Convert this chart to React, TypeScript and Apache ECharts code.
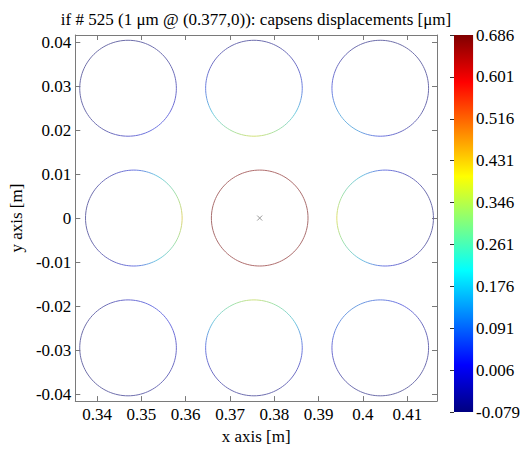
import React, { useEffect, useRef } from "react";
import * as echarts from "echarts";

const titleText = "if # 525 (1 μm @ (0.377,0)): capsens displacements [μm]";
const xName = "x axis [m]";
const yName = "y axis [m]";
const xTicks = [0.34, 0.35, 0.36, 0.37, 0.38, 0.39, 0.4, 0.41];
const yTicks = [-0.04, -0.03, -0.02, -0.01, 0, 0.01, 0.02, 0.03, 0.04];
const xRange = [0.3351, 0.4167];
const yRange = [-0.0416, 0.0416];
const cbMin = -0.079;
const cbMax = 0.686;
const cbTicks = [-0.079, 0.006, 0.091, 0.176, 0.261, 0.346, 0.431, 0.516, 0.601, 0.686];

// capacitive sensor circles (centres and radius, m)
const circleX = [0.347, 0.3754, 0.4039, 0.3483, 0.3767, 0.405, 0.347, 0.3754, 0.4039];
const circleY = [0.0295, 0.0295, 0.0295, 0, 0, 0, -0.0295, -0.0295, -0.0295];
const circleR = 0.0109;
// displacement sampled around each circle (angles in degrees, ccw from +x)
const sampleAngles = [0, 30, 60, 90, 120, 150, 180, 210, 240, 270, 300, 330];
const dispTL = [-0.03, -0.06, -0.07, -0.075, -0.078, -0.078, -0.075, -0.07, -0.06, -0.01, 0.03, 0.01];
const dispTM = [0.05, -0.03, -0.06, -0.07, -0.06, -0.03, 0.05, 0.17, 0.3, 0.38, 0.3, 0.17];
const dispTR = [-0.07, -0.075, -0.078, -0.075, -0.07, -0.04, 0.03, 0.13, 0.13, 0.03, -0.04, -0.065];
const dispML = [0.42, 0.3, 0.17, 0.03, -0.04, -0.07, -0.075, -0.07, -0.04, 0.03, 0.17, 0.3];
const dispMC = [0.686, 0.68, 0.675, 0.67, 0.675, 0.68, 0.686, 0.68, 0.675, 0.67, 0.675, 0.68];
const dispMR = [-0.075, -0.07, -0.04, 0.03, 0.16, 0.29, 0.4, 0.29, 0.16, 0.03, -0.04, -0.07];
const dispBL = [-0.02, 0.02, 0.03, -0.01, -0.06, -0.075, -0.078, -0.078, -0.075, -0.07, -0.06, -0.04];
const dispBM = [0.04, 0.16, 0.28, 0.37, 0.28, 0.16, 0.04, -0.03, -0.06, -0.07, -0.06, -0.03];
const dispBR = [-0.06, -0.04, 0.02, 0.06, 0.1, 0.08, 0.0, -0.05, -0.07, -0.075, -0.078, -0.07];
const displacements = [dispTL, dispTM, dispTR, dispML, dispMC, dispMR, dispBL, dispBM, dispBR];
const actuator = [0.3767, 0];

const clamp = (v: number) => Math.max(0, Math.min(1, v));
// MATLAB "jet" colormap; `fade` blends toward a light gray (thin anti-aliased lines)
function jetColor(v: number, fade = 0): string {
  const t = clamp((v - cbMin) / (cbMax - cbMin));
  const r = clamp(1.5 - Math.abs(4 * t - 3));
  const g = clamp(1.5 - Math.abs(4 * t - 2));
  const b = clamp(1.5 - Math.abs(4 * t - 1));
  const f = (c: number) => Math.round(c * 255 * (1 - fade) + 200 * fade);
  return `rgb(${f(r)},${f(g)},${f(b)})`;
}

const serif = "Liberation Serif";

export default function App() {
  const ref = useRef<HTMLDivElement>(null);
  useEffect(() => {
    if (!ref.current) return;
    const chart = echarts.init(ref.current, undefined, { renderer: "svg" });

    const segData: number[][] = [];
    circleX.forEach((cx, c) => {
      const n = sampleAngles.length;
      sampleAngles.forEach((a, i) => {
        const a2 = i + 1 < n ? sampleAngles[i + 1] : sampleAngles[0] + 360;
        segData.push([cx, circleY[c], circleR, a, a2, displacements[c][i], displacements[c][(i + 1) % n]]);
      });
    });

    const cbStops = [] as { offset: number; color: string }[];
    for (let k = 0; k <= 16; k++) {
      const o = k / 16;
      cbStops.push({ offset: o, color: jetColor(cbMax - o * (cbMax - cbMin)) });
    }

    const axisGray = "#7a7a7a";
    const labelStyle = { fontFamily: serif, fontSize: 17, color: "#000" };

    chart.setOption({
      animation: false,
      backgroundColor: "#fff",
      textStyle: { fontFamily: serif },
      title: {
        text: titleText,
        left: 251,
        textAlign: "center",
        top: 6,
        textStyle: { fontFamily: serif, fontSize: 17, fontWeight: "normal", color: "#000" },
      },
      grid: [
        { left: 67, top: 35, width: 370, height: 377 },
        { left: 454, top: 35, width: 21, height: 377 },
      ],
      xAxis: [
        {
          type: "value", gridIndex: 0, min: xRange[0], max: xRange[1], position: "bottom",
          name: xName, nameLocation: "middle", nameGap: 21, nameTextStyle: labelStyle,
          axisLine: { show: true, onZero: false, lineStyle: { color: axisGray, width: 1 } },
          axisTick: { show: true, inside: true, length: 5, customValues: xTicks, lineStyle: { color: axisGray } },
          axisLabel: { customValues: xTicks, margin: 5, ...labelStyle, formatter: (v: number) => String(+v.toFixed(3)) },
          splitLine: { show: false },
        },
        {
          type: "value", gridIndex: 0, min: xRange[0], max: xRange[1], position: "top",
          axisLine: { show: true, onZero: false, lineStyle: { color: axisGray, width: 1 } },
          axisTick: { show: true, inside: true, length: 5, customValues: xTicks, lineStyle: { color: axisGray } },
          axisLabel: { show: false },
          splitLine: { show: false },
        },
        {
          type: "value", gridIndex: 1, min: 0, max: 1, show: false,
        },
      ],
      yAxis: [
        {
          type: "value", gridIndex: 0, min: yRange[0], max: yRange[1], position: "left",
          name: yName, nameLocation: "middle", nameGap: 40, nameTextStyle: labelStyle,
          axisLine: { show: true, onZero: false, lineStyle: { color: axisGray, width: 1 } },
          axisTick: { show: true, inside: true, length: 5, customValues: yTicks, lineStyle: { color: axisGray } },
          axisLabel: { customValues: yTicks, margin: 4, ...labelStyle, formatter: (v: number) => String(+v.toFixed(3)) },
          splitLine: { show: false },
        },
        {
          type: "value", gridIndex: 0, min: yRange[0], max: yRange[1], position: "right",
          axisLine: { show: true, onZero: false, lineStyle: { color: axisGray, width: 1 } },
          axisTick: { show: true, inside: true, length: 5, customValues: yTicks, lineStyle: { color: axisGray } },
          axisLabel: { show: false },
          splitLine: { show: false },
        },
        {
          type: "value", gridIndex: 1, min: cbMin, max: cbMax, position: "right",
          axisLine: { show: false },
          axisTick: { show: true, inside: true, length: 4, customValues: cbTicks, lineStyle: { color: "#333" } },
          axisLabel: { customValues: cbTicks, margin: 3, ...labelStyle, formatter: (v: number) => v.toFixed(3) },
          splitLine: { show: false },
        },
      ],
      series: [
        {
          type: "custom",
          xAxisIndex: 2,
          yAxisIndex: 2,
          data: [[0, cbMin, 1, cbMax]],
          z: 1,
          renderItem: (params: any, api: any) => {
            const tl = api.coord([api.value(0), api.value(3)]);
            const br = api.coord([api.value(2), api.value(1)]);
            return {
              type: "rect",
              shape: { x: tl[0], y: tl[1], width: br[0] - tl[0], height: br[1] - tl[1] },
              style: { fill: new echarts.graphic.LinearGradient(0, 0, 0, 1, cbStops) },
            };
          },
        },
        {
          type: "custom",
          xAxisIndex: 0,
          yAxisIndex: 0,
          data: segData,
          renderItem: (params: any, api: any) => {
            const cx = api.value(0), cy = api.value(1), r = api.value(2);
            const a1 = api.value(3), a2 = api.value(4), v1 = api.value(5), v2 = api.value(6);
            const steps = 10;
            const pts: number[][] = [];
            for (let k = 0; k <= steps; k++) {
              const t = ((a1 + ((a2 - a1) * k) / steps) * Math.PI) / 180;
              pts.push(api.coord([cx + r * Math.cos(t), cy + r * Math.sin(t)]));
            }
            const p0 = pts[0], p1 = pts[steps];
            return {
              type: "polyline",
              shape: { points: pts },
              style: {
                fill: "none",
                stroke: new echarts.graphic.LinearGradient(p0[0], p0[1], p1[0], p1[1], [
                  { offset: 0, color: jetColor(v1, 0.55) },
                  { offset: 1, color: jetColor(v2, 0.55) },
                ], true),
                lineWidth: 1,
              },
            };
          },
        },
        {
          type: "custom",
          xAxisIndex: 0,
          yAxisIndex: 0,
          data: [actuator],
          renderItem: (params: any, api: any) => {
            const p = api.coord([api.value(0), api.value(1)]);
            const h = 2.5;
            const st = { stroke: "#999", lineWidth: 1 };
            return {
              type: "group",
              children: [
                { type: "line", shape: { x1: p[0] - h, y1: p[1] - h, x2: p[0] + h, y2: p[1] + h }, style: st },
                { type: "line", shape: { x1: p[0] - h, y1: p[1] + h, x2: p[0] + h, y2: p[1] - h }, style: st },
              ],
            };
          },
        },
      ],
    });
    return () => chart.dispose();
  }, []);
  return (
    <div
      ref={ref}
      style={{ position: "fixed", left: 0, top: 0, width: 523, height: 450, background: "#fff" }}
    />
  );
}
